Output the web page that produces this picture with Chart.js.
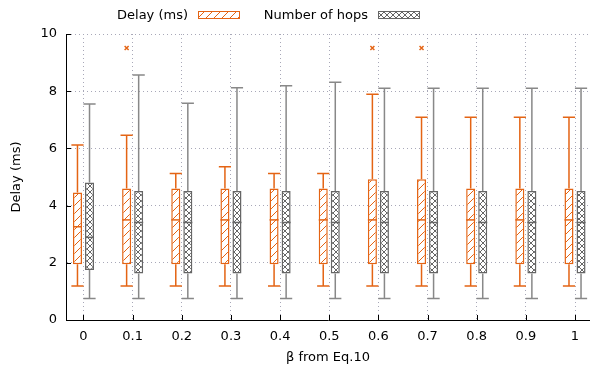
<!DOCTYPE html>
<html>
<head>
<meta charset="utf-8">
<script src="https://cdn.jsdelivr.net/npm/chart.js@4"></script>
<style>
  body { margin: 0; background: #fff; }
  canvas { display: block; }
</style>
</head>
<body>
<canvas id="chart" width="590" height="369"></canvas>
<script>
const beta = [0, 0.1, 0.2, 0.3, 0.4, 0.5, 0.6, 0.7, 0.8, 0.9, 1];
const yTicks = [0, 2, 4, 6, 8, 10];

const delayMin = [1.19, 1.19, 1.19, 1.19, 1.19, 1.19, 1.19, 1.19, 1.19, 1.19, 1.19];
const delayQ1 = [1.95, 1.95, 1.95, 1.95, 1.95, 1.95, 1.95, 1.95, 1.95, 1.95, 1.95];
const delayMed = [3.26, 3.5, 3.5, 3.5, 3.5, 3.5, 3.5, 3.5, 3.5, 3.5, 3.5];
const delayQ3 = [4.46, 4.6, 4.6, 4.6, 4.6, 4.6, 4.92, 4.92, 4.6, 4.6, 4.6];
const delayMax = [6.12, 6.46, 5.12, 5.36, 5.12, 5.12, 7.89, 7.09, 7.09, 7.09, 7.09];
const delayOutliers = [[], [9.51], [], [], [], [], [9.51], [9.51], [], [], []];

const hopsMin = [0.75, 0.75, 0.75, 0.75, 0.75, 0.75, 0.75, 0.75, 0.75, 0.75, 0.75];
const hopsQ1 = [1.75, 1.63, 1.63, 1.63, 1.63, 1.63, 1.63, 1.63, 1.63, 1.63, 1.63];
const hopsMed = [2.89, 3.41, 3.41, 3.41, 3.41, 3.41, 3.41, 3.41, 3.41, 3.41, 3.41];
const hopsQ3 = [4.81, 4.51, 4.51, 4.51, 4.51, 4.51, 4.51, 4.51, 4.51, 4.51, 4.51];
const hopsMax = [7.55, 8.57, 7.58, 8.12, 8.19, 8.31, 8.1, 8.1, 8.1, 8.1, 8.1];
const hopsOutliers = [[], [], [], [], [], [], [], [], [], [], []];

const ORANGE = "rgb(228, 100, 20)";
const GRAY = "#666";
const GRAY_LIGHT = "#888";
const FONT = { family: "DejaVu Sans", size: 13 };

function hatch(color) {
  const c = document.createElement("canvas");
  c.width = 8; c.height = 8;
  const g = c.getContext("2d");
  g.fillStyle = "#fff"; g.fillRect(0, 0, 8, 8);
  g.strokeStyle = color; g.lineWidth = 1;
  g.beginPath();
  g.moveTo(0, 8); g.lineTo(8, 0);
  g.moveTo(-1, 1); g.lineTo(1, -1);
  g.moveTo(7, 9); g.lineTo(9, 7);
  g.stroke();
  return g.createPattern(c, "repeat");
}

function crosshatch(color) {
  const c = document.createElement("canvas");
  c.width = 6; c.height = 6;
  const g = c.getContext("2d");
  g.fillStyle = "#fff"; g.fillRect(0, 0, 6, 6);
  g.strokeStyle = color; g.lineWidth = 1;
  g.beginPath();
  g.moveTo(0, 0); g.lineTo(6, 6);
  g.moveTo(0, 6); g.lineTo(6, 0);
  g.stroke();
  return g.createPattern(c, "repeat");
}

const series = [
  { label: "Delay (ms)", min: delayMin, q1: delayQ1, med: delayMed, q3: delayQ3, max: delayMax, out: delayOutliers,
    line: ORANGE, whisker: ORANGE, fill: hatch(ORANGE) },
  { label: "Number of hops", min: hopsMin, q1: hopsQ1, med: hopsMed, q3: hopsQ3, max: hopsMax, out: hopsOutliers,
    line: GRAY, whisker: GRAY_LIGHT, fill: crosshatch(GRAY) }
];

// whiskers, medians, outliers, inward ticks and the legend
const boxPlugin = {
  id: "boxes",
  afterDatasetsDraw(chart) {
    const ctx = chart.ctx;
    const y = chart.scales.y;
    series.forEach((s, di) => {
      const meta = chart.getDatasetMeta(di);
      meta.data.forEach((bar, i) => {
        const x = bar.x, w = bar.width, cap = w * 1.35;
        const pMax = y.getPixelForValue(s.max[i]);
        const pMin = y.getPixelForValue(s.min[i]);
        ctx.save();
        ctx.strokeStyle = s.whisker;
        ctx.lineWidth = 1.5;
        ctx.beginPath();
        ctx.moveTo(x, y.getPixelForValue(s.q3[i]));
        ctx.lineTo(x, pMax);
        ctx.moveTo(x, y.getPixelForValue(s.q1[i]));
        ctx.lineTo(x, pMin);
        ctx.moveTo(x - cap / 2, pMax);
        ctx.lineTo(x + cap / 2, pMax);
        ctx.moveTo(x - cap / 2, pMin);
        ctx.lineTo(x + cap / 2, pMin);
        ctx.stroke();
        ctx.strokeStyle = s.line;
        ctx.beginPath();
        ctx.moveTo(x - w / 2, y.getPixelForValue(s.med[i]));
        ctx.lineTo(x + w / 2, y.getPixelForValue(s.med[i]));
        ctx.stroke();
        s.out[i].forEach(v => {
          const py = y.getPixelForValue(v);
          ctx.beginPath();
          ctx.moveTo(x - 2, py - 2); ctx.lineTo(x + 2, py + 2);
          ctx.moveTo(x - 2, py + 2); ctx.lineTo(x + 2, py - 2);
          ctx.stroke();
        });
        ctx.restore();
      });
    });
  },
  afterDraw(chart) {
    const ctx = chart.ctx;
    const { x, y } = chart.scales;
    const area = chart.chartArea;
    ctx.save();
    ctx.strokeStyle = "#000";
    ctx.lineWidth = 1;
    ctx.beginPath();
    beta.forEach(v => {
      const px = Math.round(x.getPixelForValue(v)) + 0.5;
      ctx.moveTo(px, area.bottom); ctx.lineTo(px, area.bottom - 5);
    });
    yTicks.forEach(v => {
      const py = Math.round(y.getPixelForValue(v)) + 0.5;
      ctx.moveTo(area.left, py); ctx.lineTo(area.left + 5, py);
    });
    ctx.stroke();

    // legend
    ctx.font = "13px 'DejaVu Sans'";
    ctx.fillStyle = "#000";
    ctx.textAlign = "right";
    ctx.textBaseline = "middle";
    const items = [{ textRight: 188, box: 198 }, { textRight: 368, box: 378 }];
    series.forEach((s, i) => {
      const it = items[i];
      ctx.fillText(s.label, it.textRight, 15.5);
      ctx.fillStyle = s.fill;
      ctx.fillRect(it.box, 11.5, 42, 7);
      ctx.strokeStyle = s.line;
      ctx.strokeRect(it.box + 0.5, 11.5, 41, 7);
      ctx.fillStyle = "#000";
    });
    ctx.restore();
  }
};

new Chart(document.getElementById("chart"), {
  type: "bar",
  data: {
    datasets: series.map(s => ({
      label: s.label,
      data: beta.map((b, i) => ({ x: b, y: [s.q1[i], s.q3[i]] })),
      backgroundColor: s.fill,
      borderColor: s.line,
      borderWidth: 1.5,
      borderSkipped: false,
      categoryPercentage: 0.49,
      barPercentage: 0.75
    }))
  },
  options: {
    responsive: false,
    animation: false,
    layout: { padding: { top: 34, right: 0, left: 0, bottom: 0 } },
    plugins: { legend: { display: false }, tooltip: { enabled: false } },
    scales: {
      x: {
        type: "linear",
        min: -0.0356,
        max: 1.0305,
        offset: false,
        afterBuildTicks: scale => { scale.ticks = beta.map(v => ({ value: v })); },
        afterFit: scale => { scale.height = 49; },
        ticks: { font: FONT, color: "#000", padding: 9, maxRotation: 0, autoSkip: false,
                 callback: v => String(v) },
        grid: { offset: false, drawTicks: false, color: "#a8a8b8", lineWidth: 1 },
        border: { color: "#000", width: 1, dash: [1, 3] },
        title: { display: true, text: "β from Eq.10", font: FONT, color: "#000", padding: { top: 0, bottom: 4 } }
      },
      y: {
        min: 0,
        max: 10,
        afterBuildTicks: scale => { scale.ticks = yTicks.map(v => ({ value: v })); },
        afterFit: scale => { scale.width = 66; },
        ticks: { font: FONT, color: "#000", padding: 9 },
        grid: { drawTicks: false, color: "#a8a8b8", lineWidth: 1 },
        border: { color: "#000", width: 1, dash: [1, 3] },
        title: { display: true, text: "Delay (ms)", font: FONT, color: "#000", padding: { top: 9, bottom: 0 } }
      }
    }
  },
  plugins: [boxPlugin]
});
</script>
</body>
</html>
